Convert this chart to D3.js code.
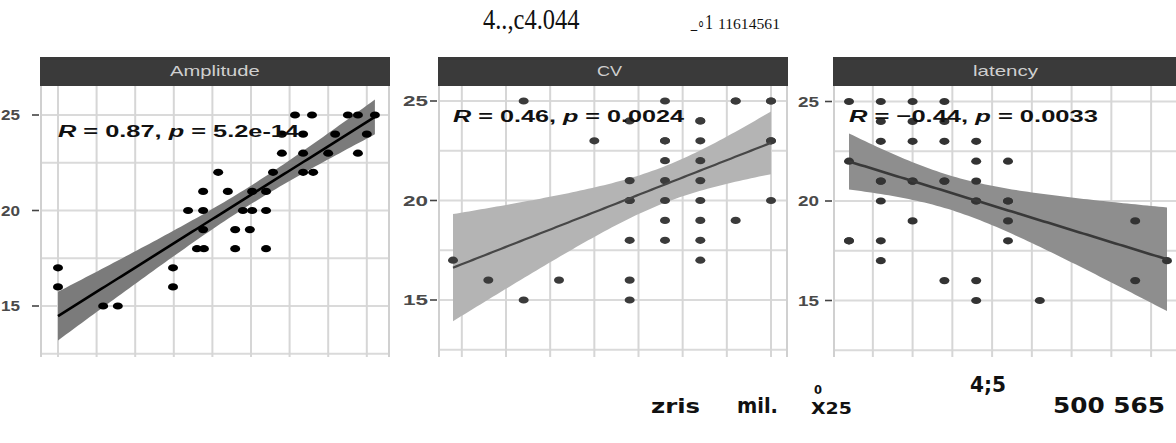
<!DOCTYPE html>
<html>
<head>
<meta charset="utf-8">
<script src="https://cdn.jsdelivr.net/npm/d3@7"></script>
<style>
  html, body { margin: 0; padding: 0; background: #fff; }
  svg { display: block; }
</style>
</head>
<body>
<svg width="1176" height="443"></svg>
<script>
// facet scatter plots with lm fit + 95% band (ggplot-like look)

const facetNames = ["Amplitude", "CV", "latency"];
const statR = ["0.87", "0.46", "\u22120.44"];
const statP = ["5.2e-14", "0.0024", "0.0033"];

const yTicks = [15, 20, 25];
const yGrid = [12.5, 15, 17.5, 20, 22.5, 25];

// x values are read in grid units (no x axis labels visible in the picture)
// a few points sit on top of each other, so some pairs are repeated
const ampX = [0, 0, 1.17, 1.55, 2.98, 2.98, 3.37, 3.76, 3.76, 3.76, 3.6, 3.78, 4.15, 4.4, 4.59, 4.59, 4.79, 5.03, 4.97, 5.03,
  5.39, 5.39, 5.39, 5.57, 5.8, 5.8, 6.14, 6.35, 6.35, 6.35, 6.61, 6.58, 7.0, 7.18, 7.51, 7.77, 7.77, 8.0, 8.21];
const ampY = [17, 16, 15, 15, 17, 16, 20, 21, 20, 19, 18, 18, 22, 21, 19, 18, 20, 20, 19, 21,
  21, 20, 18, 22, 24, 23, 25, 24, 23, 22, 22, 25, 23, 24, 25, 25, 23, 24, 25];

const cvX = [0, 1, 2, 2, 3, 4, 5, 5, 5, 5, 5, 5, 6, 6, 6, 6, 6, 6, 6, 7, 7, 7, 7, 7, 7, 7, 7, 8, 8, 9, 9, 9,
  9, 8, 7, 6, 5, 9];
const cvY = [17, 16, 25, 15, 16, 23, 24, 21, 20, 18, 16, 15, 25, 23, 22, 21, 20, 19, 18, 24, 23, 22, 21, 20, 19, 18, 17, 25, 19, 25, 23, 20,
  25, 25, 24, 23, 20, 23];

const latX = [0, 1, 2, 3, 1, 2, 3, 1, 2, 3, 4, 0, 4, 5, 1, 2, 3, 4, 1, 4, 5, 2, 5, 9, 0, 1, 5, 1, 10, 3, 4, 9, 4, 6,
  0, 5, 4, 2, 1, 3];
const latY = [25, 25, 25, 25, 24, 24, 24, 23, 23, 23, 23, 22, 22, 22, 21, 21, 21, 21, 20, 20, 20, 19, 19, 19, 18, 18, 18, 17, 17, 16, 16, 16, 15, 15,
  18, 20, 20, 21, 21, 21];

const ampBreaks = [0, 1, 2, 3, 4, 5, 6, 7, 8];
const cvBreaks = [0.25, 1.5, 2.75, 4, 5.25, 6.5, 7.75, 9];
const latBreaks = [-0.5, 0.75, 2, 3.25, 4.5, 5.75, 7, 8.25, 9.5];

const svg = d3.select("svg");

// layout of each facet (pixel geometry only)
const panels = [
  { name: facetNames[0], r: statR[0], p: statP[0], xs: ampX, ys: ampY, breaks: ampBreaks,
    x0: 40, x1: 390, xDom: [0, 8], xRng: [58, 366.8], yRng: [306, 115],
    labelEnd: 20, labelW: 19,
    pt: "#000", line: "#000", lineW: 2.6, band: "#7b7b7b",
    ann: { x: 58, w: 242, y: 137 }, strip: { x: 170, w: 90 } },
  { name: facetNames[1], r: statR[1], p: statP[1], xs: cvX, ys: cvY, breaks: cvBreaks,
    x0: 438, x1: 788, xDom: [0, 9], xRng: [453, 771], yRng: [300, 101],
    labelEnd: 428, labelW: 25,
    pt: "#3b3b3b", line: "#474747", lineW: 2.2, band: "#b4b4b4",
    ann: { x: 453, w: 232, y: 122 }, strip: { x: 597, w: 26 } },
  { name: facetNames[2], r: statR[2], p: statP[2], xs: latX, ys: latY, breaks: latBreaks,
    x0: 833, x1: 1183, xDom: [0, 10], xRng: [849, 1167], yRng: [300.5, 101.5],
    labelEnd: 819, labelW: 21,
    pt: "#333", line: "#393939", lineW: 2.6, band: "#8e8e8e",
    ann: { x: 849, w: 249, y: 122 }, strip: { x: 973, w: 65 } }
];

const stripTop = 57, stripBot = 86, panelBot = 357;

// squeeze/stretch a text horizontally so it spans [x, x+w]
function fitWidth(sel, x, w) {
  const bb = sel.node().getBBox();
  const s = w / bb.width;
  sel.attr("transform", `translate(${x - bb.x * s},0) scale(${s},1)`);
}

function linFit(xs, ys) {
  const n = xs.length;
  const mx = d3.mean(xs), my = d3.mean(ys);
  let sxx = 0, sxy = 0;
  xs.forEach((x, i) => { sxx += (x - mx) ** 2; sxy += (x - mx) * (ys[i] - my); });
  const b = sxy / sxx, a = my - b * mx;
  let sse = 0;
  xs.forEach((x, i) => { sse += (ys[i] - a - b * x) ** 2; });
  const s = Math.sqrt(sse / (n - 2));
  const t = 2.02;
  const [lo, hi] = d3.extent(xs);
  return d3.range(0, 81).map(k => {
    const x = lo + (hi - lo) * k / 80;
    const yhat = a + b * x;
    const se = s * Math.sqrt(1 / n + (x - mx) ** 2 / sxx);
    return { x, y: yhat, lo: yhat - t * se, hi: yhat + t * se };
  });
}

panels.forEach((pn, i) => {
  const x = d3.scaleLinear().domain(pn.xDom).range(pn.xRng);
  const y = d3.scaleLinear().domain([15, 25]).range(pn.yRng);

  const g = svg.append("g");
  const clipId = "clip" + i;
  svg.append("clipPath").attr("id", clipId)
    .append("rect").attr("x", pn.x0).attr("y", stripBot).attr("width", pn.x1 - pn.x0).attr("height", panelBot - stripBot);

  const body = g.append("g").attr("clip-path", `url(#${clipId})`);

  body.append("rect")
    .attr("x", pn.x0).attr("y", stripBot)
    .attr("width", pn.x1 - pn.x0).attr("height", panelBot - stripBot)
    .attr("fill", "#fff");

  body.selectAll("line.h").data(yGrid).enter().append("line")
    .attr("x1", pn.x0).attr("x2", pn.x1)
    .attr("y1", d => y(d)).attr("y2", d => y(d))
    .attr("stroke", "#dadada").attr("stroke-width", 1.8);

  body.selectAll("line.v").data(pn.breaks).enter().append("line")
    .attr("x1", d => x(d)).attr("x2", d => x(d))
    .attr("y1", stripBot).attr("y2", panelBot)
    .attr("stroke", "#d6d6d6").attr("stroke-width", 2);

  // panel side borders
  [pn.x0 + 1, pn.x1 - 1].forEach(bx => {
    body.append("line").attr("x1", bx).attr("x2", bx).attr("y1", stripBot).attr("y2", panelBot)
      .attr("stroke", "#d0d0d0").attr("stroke-width", 2);
  });

  const fit = linFit(pn.xs, pn.ys);

  body.append("path")
    .datum(fit)
    .attr("d", d3.area().x(d => x(d.x)).y0(d => y(d.lo)).y1(d => y(d.hi)))
    .attr("fill", pn.band);

  body.selectAll("ellipse").data(pn.xs).enter().append("ellipse")
    .attr("cx", d => x(d))
    .attr("cy", (d, j) => y(pn.ys[j]))
    .attr("rx", 5).attr("ry", 3.6)
    .attr("fill", pn.pt);

  body.append("path")
    .datum(fit)
    .attr("d", d3.line().x(d => x(d.x)).y(d => y(d.y)))
    .attr("fill", "none")
    .attr("stroke", pn.line)
    .attr("stroke-width", pn.lineW);

  // annotation  R = .., p = ..
  const ann = g.append("text")
    .attr("y", pn.ann.y)
    .attr("font-family", "Liberation Sans, Arial, sans-serif")
    .attr("font-size", 17)
    .attr("font-weight", "bold")
    .attr("fill", "#111");
  ann.append("tspan").attr("font-style", "italic").text("R");
  ann.append("tspan").text(` = ${pn.r}, `);
  ann.append("tspan").attr("font-style", "italic").text("p");
  ann.append("tspan").text(` = ${pn.p}`);
  fitWidth(ann, pn.ann.x, pn.ann.w);

  // strip
  g.append("rect")
    .attr("x", pn.x0).attr("y", stripTop)
    .attr("width", pn.x1 - pn.x0).attr("height", stripBot - stripTop)
    .attr("fill", "#3a3a3a");
  const st = g.append("text")
    .attr("y", 76)
    .attr("font-family", "Liberation Sans, Arial, sans-serif")
    .attr("font-size", 14)
    .attr("fill", "#cfcfcf")
    .text(pn.name);
  fitWidth(st, pn.strip.x, pn.strip.w);

  // y axis ticks + labels
  g.selectAll("line.tk").data(yTicks).enter().append("line")
    .attr("x1", pn.x0 - 8).attr("x2", pn.x0 - 1)
    .attr("y1", d => y(d)).attr("y2", d => y(d))
    .attr("stroke", "#444").attr("stroke-width", 1.6);

  yTicks.forEach(v => {
    const t = g.append("text")
      .attr("y", y(v) + 5.5)
      .attr("font-family", "Liberation Sans, Arial, sans-serif")
      .attr("font-size", 15)
      .attr("font-weight", "bold")
      .attr("fill", "#4a4a4a")
      .text(v);
    fitWidth(t, pn.labelEnd - pn.labelW, pn.labelW);
  });
});

// stray text fragments above and below the plot
const topWords = [
  { s: "4..,c4.044", x: 483, w: 97, y: 29, size: 29 },
  { s: "_\u2218", x: 690, w: 15, y: 29, size: 18 },
  { s: "1", x: 705, w: 8, y: 29, size: 21 },
  { s: "11614561", x: 718, w: 62, y: 29, size: 15 }
];
const bottomWords = [
  { s: "zris", x: 651, w: 49, y: 413, size: 20 },
  { s: "mil.", x: 737, w: 41, y: 413, size: 21 },
  { s: "X25", x: 811, w: 41, y: 414, size: 16 },
  { s: "0", x: 814, w: 8, y: 394, size: 13 },
  { s: "4;5", x: 970, w: 36, y: 392, size: 21 },
  { s: "500 565", x: 1053, w: 112, y: 413, size: 22 }
];

topWords.forEach(d => {
  const t = svg.append("text")
    .attr("y", d.y)
    .attr("font-family", "Liberation Serif, Times New Roman, serif")
    .attr("font-size", d.size)
    .attr("fill", "#111")
    .text(d.s);
  fitWidth(t, d.x, d.w);
});

bottomWords.forEach(d => {
  const t = svg.append("text")
    .attr("y", d.y)
    .attr("font-family", "Liberation Sans Narrow, DejaVu Sans Condensed, Arial, sans-serif")
    .attr("font-size", d.size)
    .attr("font-weight", "bold")
    .attr("fill", "#111")
    .text(d.s);
  fitWidth(t, d.x, d.w);
});
</script>
</body>
</html>
